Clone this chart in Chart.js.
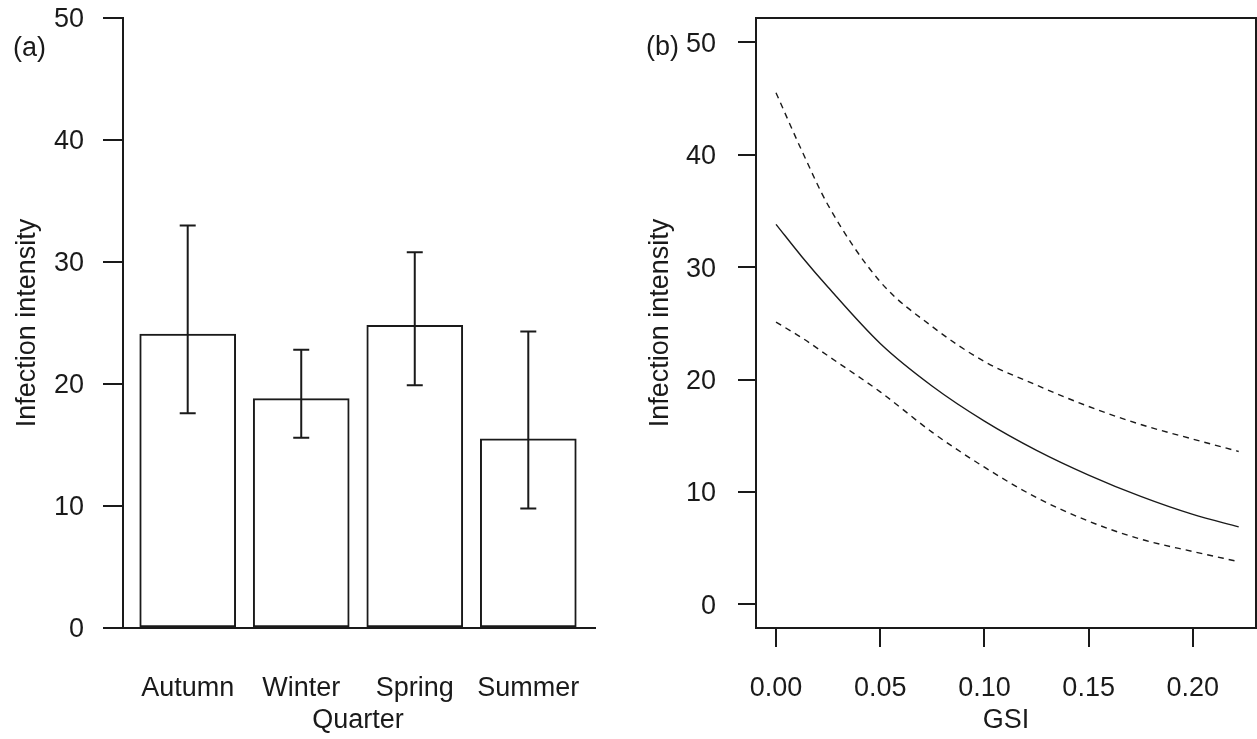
<!DOCTYPE html>
<html>
<head>
<meta charset="utf-8">
<script src="https://cdn.jsdelivr.net/npm/chart.js@4"></script>
<style>
  html, body { margin: 0; padding: 0; background: #fff; overflow: hidden; }
  #left { position: absolute; left: 0; top: 0; }
  #right { position: absolute; left: 630px; top: 0; }
</style>
</head>
<body>
<canvas id="left" width="630" height="739"></canvas>
<canvas id="right" width="627" height="739"></canvas>
<script>
// (a) infection intensity by quarter
const quarters = ['Autumn', 'Winter', 'Spring', 'Summer'];
const meanIntensity = [24.1, 18.8, 24.8, 15.5];
const ciLow = [17.6, 15.6, 19.9, 9.8];
const ciHigh = [33.0, 22.8, 30.8, 24.3];
const intensityTicks = [0, 10, 20, 30, 40, 50];

// (b) fitted intensity against GSI with 95% band
const gsi = [0, 0.0125, 0.025, 0.05, 0.075, 0.1, 0.125, 0.15, 0.175, 0.2, 0.222];
const fitted = [33.8, 30.9, 28.2, 23.2, 19.4, 16.3, 13.7, 11.5, 9.6, 8.0, 6.9];
const lowerBand = [25.1, 23.7, 22.1, 18.9, 15.3, 12.2, 9.5, 7.4, 5.8, 4.7, 3.8];
const upperBand = [45.5, 40.3, 35.5, 28.7, 24.7, 21.6, 19.5, 17.6, 16.0, 14.7, 13.6];
const gsiTicks = [0, 0.05, 0.1, 0.15, 0.2];

const ink = '#1a1a1a';
const fontFamily = 'Arial, "Liberation Sans", sans-serif';
Chart.defaults.font.family = fontFamily;
Chart.defaults.font.size = 27;
Chart.defaults.color = ink;
Chart.defaults.animation = false;
Chart.defaults.plugins.legend.display = false;
Chart.defaults.plugins.tooltip.enabled = false;

// barplot-style centres: bar width 1, gap 0.2
const barX = i => 0.7 + 1.2 * i;

// fixed y-axis width; drop the label padding so layout.padding.top sets the plot top
const fixYAxis = w => s => {
  s.width = w;
  s.paddingTop = 0;
  s.paddingBottom = 0;
};

const panelLabel = {
  id: 'panelLabel',
  afterDraw(chart, args, opts) {
    const ctx = chart.ctx;
    ctx.save();
    ctx.font = '27px ' + fontFamily;
    ctx.fillStyle = ink;
    ctx.textBaseline = 'alphabetic';
    ctx.fillText(opts.text, opts.x, opts.y);
    ctx.restore();
  }
};

const errorBars = {
  id: 'errorBars',
  afterDatasetsDraw(chart) {
    const { ctx, chartArea, scales: { x, y } } = chart;
    ctx.save();
    ctx.strokeStyle = ink;
    ctx.lineWidth = 2;
    const y0 = y.getPixelForValue(0);
    ctx.beginPath();
    ctx.moveTo(chartArea.left - 20, y0);
    ctx.lineTo(chartArea.right + 3, y0);
    ctx.stroke();
    quarters.forEach((q, i) => {
      const px = x.getPixelForValue(barX(i));
      const lo = y.getPixelForValue(ciLow[i]);
      const hi = y.getPixelForValue(ciHigh[i]);
      ctx.beginPath();
      ctx.moveTo(px, lo); ctx.lineTo(px, hi);
      ctx.moveTo(px - 8, lo); ctx.lineTo(px + 8, lo);
      ctx.moveTo(px - 8, hi); ctx.lineTo(px + 8, hi);
      ctx.stroke();
    });
    ctx.restore();
  }
};

const frame = {
  id: 'frame',
  afterDatasetsDraw(chart) {
    const { ctx, chartArea: a } = chart;
    ctx.save();
    ctx.strokeStyle = ink;
    ctx.lineWidth = 2;
    ctx.strokeRect(a.left, a.top, a.right - a.left, a.bottom - a.top);
    ctx.restore();
  }
};

new Chart(document.getElementById('left'), {
  type: 'bar',
  data: {
    datasets: [{
      data: meanIntensity.map((v, i) => ({ x: barX(i), y: v })),
      backgroundColor: '#fff',
      borderColor: ink,
      borderWidth: 2,
      borderSkipped: false,
      barThickness: 96,
    }],
  },
  options: {
    responsive: false,
    devicePixelRatio: 1,
    layout: { padding: { left: 0, top: 18, right: 37, bottom: 0 } },
    plugins: { panelLabel: { text: '(a)', x: 13, y: 56 } },
    scales: {
      x: {
        type: 'linear',
        min: 0.016,
        max: 4.984,
        offset: false,
        bounds: 'data',
        afterBuildTicks: s => { s.ticks = quarters.map((q, i) => ({ value: barX(i) })); },
        afterFit: s => { s.height = 111; },
        ticks: { callback: (v, i) => quarters[i], padding: 44, autoSkip: false, maxRotation: 0 },
        grid: { display: false, drawTicks: false, offset: false },
        border: { display: false },
        title: { display: true, text: 'Quarter', padding: { top: 0, bottom: 2 } },
      },
      y: {
        min: 0,
        max: 50,
        afterBuildTicks: s => { s.ticks = intensityTicks.map(v => ({ value: v })); },
        afterFit: fixYAxis(123),
        ticks: { padding: 19, labelOffset: 2 },
        grid: { drawOnChartArea: false, tickLength: 20, tickColor: ink, lineWidth: 2 },
        border: { display: true, color: ink, width: 2 },
        title: { display: true, text: 'Infection intensity', padding: { top: 11, bottom: 0 } },
      },
    },
  },
  plugins: [errorBars, panelLabel],
});

const curve = (vals, dash) => ({
  data: gsi.map((g, i) => ({ x: g, y: vals[i] })),
  borderColor: ink,
  borderWidth: 1.4,
  borderDash: dash,
  pointRadius: 0,
  cubicInterpolationMode: 'monotone',
  fill: false,
});

new Chart(document.getElementById('right'), {
  type: 'line',
  data: {
    datasets: [
      curve(fitted, []),
      curve(lowerBand, [6, 5]),
      curve(upperBand, [6, 5]),
    ],
  },
  options: {
    responsive: false,
    devicePixelRatio: 1,
    layout: { padding: { left: 0, top: 18, right: 1, bottom: 0 } },
    plugins: { panelLabel: { text: '(b)', x: 16, y: 55 } },
    scales: {
      x: {
        type: 'linear',
        min: -0.0096,
        max: 0.2303,
        bounds: 'data',
        afterBuildTicks: s => { s.ticks = gsiTicks.map(v => ({ value: v })); },
        afterFit: s => { s.height = 111; },
        ticks: { callback: v => v.toFixed(2), padding: 25, autoSkip: false, maxRotation: 0 },
        grid: { drawOnChartArea: false, tickLength: 19, tickColor: ink, lineWidth: 2 },
        border: { display: false },
        title: { display: true, text: 'GSI', padding: { top: 0, bottom: 2 } },
      },
      y: {
        min: -2.1,
        max: 52.15,
        bounds: 'data',
        afterBuildTicks: s => { s.ticks = intensityTicks.map(v => ({ value: v })); },
        afterFit: fixYAxis(126),
        ticks: { padding: 22, labelOffset: 2 },
        grid: { drawOnChartArea: false, tickLength: 18, tickColor: ink, lineWidth: 2 },
        border: { display: false },
        title: { display: true, text: 'Infection intensity', padding: { top: 14, bottom: 0 } },
      },
    },
  },
  plugins: [frame, panelLabel],
});
</script>
</body>
</html>
